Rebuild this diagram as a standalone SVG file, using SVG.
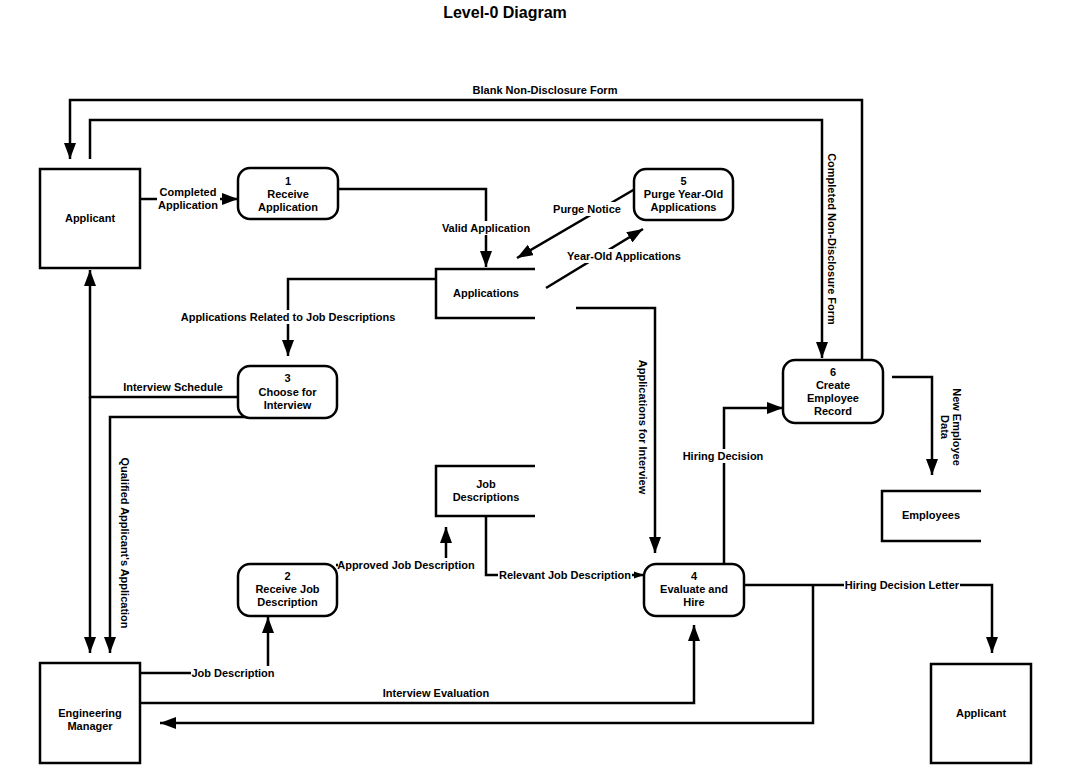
<svg xmlns="http://www.w3.org/2000/svg" width="1085" height="767" viewBox="0 0 1085 767">
<style>
.ln{fill:none;stroke:#000;stroke-width:2.5}
.bx{fill:#fff;stroke:#000;stroke-width:2.5}
.st{fill:none;stroke:#000;stroke-width:2.5}
.bg{fill:#fff;stroke:none}
.t{font-family:"Liberation Sans",Arial,sans-serif;font-size:11px;font-weight:bold;fill:#000;text-anchor:middle}
.lb{font-family:"Liberation Sans",Arial,sans-serif;font-size:11px;font-weight:bold;fill:#000;text-anchor:middle}
.title{font-family:"Liberation Sans",Arial,sans-serif;font-size:16px;font-weight:bold;fill:#000;text-anchor:middle}
</style>
<defs>
<marker id="arr" markerUnits="userSpaceOnUse" markerWidth="16" markerHeight="12" refX="16" refY="6" orient="auto">
<path d="M0,0 L16,6 L0,12 z" fill="#000"/>
</marker>
<marker id="arrs" markerUnits="userSpaceOnUse" markerWidth="10" markerHeight="8" refX="10" refY="4" orient="auto">
<path d="M0,0.5 L10,4 L0,7.5 z" fill="#000"/>
</marker>
</defs>
<rect width="1085" height="767" fill="#fff"/>
<text class="title" x="505" y="18">Level-0 Diagram</text>

<g id="connectors">
<path class="ln" d="M862,360 V100 H70 V159" marker-end="url(#arr)"/>
<path class="ln" d="M90,159 V120 H822 V358" marker-end="url(#arr)"/>
<path class="ln" d="M140,199 H238" marker-end="url(#arr)"/>
<path class="ln" d="M338,189 H486 V267" marker-end="url(#arr)"/>
<path class="ln" d="M635,189 L517,258" marker-end="url(#arr)"/>
<path class="ln" d="M546,288 L643,229" marker-end="url(#arr)"/>
<path class="ln" d="M436,279 H288 V356" marker-end="url(#arr)"/>
<path class="ln" d="M238,397 H90 V270" marker-end="url(#arr)"/>
<path class="ln" d="M90,397 V653" marker-end="url(#arr)"/>
<path class="ln" d="M250,417 H110 V653" marker-end="url(#arr)"/>
<path class="ln" d="M140,673 H268 V617" marker-end="url(#arr)"/>
<path class="ln" d="M336,565 H446 V527" marker-end="url(#arr)"/>
<path class="ln" d="M486,516 V575 H644" marker-end="url(#arrs)"/>
<path class="ln" d="M576,308 H655 V553" marker-end="url(#arr)"/>
<path class="ln" d="M724,564 V408 H783" marker-end="url(#arr)"/>
<path class="ln" d="M892,377 H932 V475" marker-end="url(#arr)"/>
<path class="ln" d="M744,585 H992 V653" marker-end="url(#arr)"/>
<path class="ln" d="M813,585 V723 H160" marker-end="url(#arr)"/>
<path class="ln" d="M140,703 H694 V625" marker-end="url(#arr)"/>

<rect class="bg" x="157" y="185" width="63" height="27"/>
<rect class="bg" x="440" y="221" width="92" height="14"/>
<rect class="bg" x="552" y="202" width="70" height="14"/>
<rect class="bg" x="566" y="249" width="117" height="14"/>
<rect class="bg" x="180" y="310" width="216" height="14"/>
<rect class="bg" x="338" y="558" width="138" height="14"/>
<rect class="bg" x="498" y="568" width="134" height="14"/>
<rect class="bg" x="191" y="666" width="84" height="14"/>
<rect class="bg" x="682" y="449" width="82" height="14"/>
<rect class="bg" x="844" y="578" width="116" height="14"/>

<text class="lb" x="545" y="94">Blank Non-Disclosure Form</text>
<text class="lb" x="188" y="196">Completed</text>
<text class="lb" x="188" y="209">Application</text>
<text class="lb" x="486" y="232">Valid Application</text>
<text class="lb" x="587" y="213">Purge Notice</text>
<text class="lb" x="624" y="260">Year-Old Applications</text>
<text class="lb" x="288" y="321">Applications Related to Job Descriptions</text>
<text class="lb" x="173" y="391">Interview Schedule</text>
<text class="lb" transform="translate(125,543) rotate(90)" x="0" y="4">Qualified Applicant's Application</text>
<text class="lb" x="406" y="569">Approved Job Description</text>
<text class="lb" x="565" y="579">Relevant Job Description</text>
<text class="lb" x="233" y="677">Job Description</text>
<text class="lb" x="436" y="697">Interview Evaluation</text>
<text class="lb" transform="translate(643,427) rotate(90)" x="0" y="4">Applications for Interview</text>
<text class="lb" x="723" y="460">Hiring Decision</text>
<text class="lb" transform="translate(832,239) rotate(90)" x="0" y="4">Completed Non-Disclosure Form</text>
<text class="lb" transform="translate(951,427) rotate(90)" x="0" y="-2">New Employee</text>
<text class="lb" transform="translate(951,427) rotate(90)" x="0" y="10">Data</text>
<text class="lb" x="902" y="589">Hiring Decision Letter</text>
</g>

<g id="applicant-top">
<rect class="bx" x="40" y="169" width="100" height="99"/>
<text class="t" x="90" y="222">Applicant</text>
</g>
<g id="eng-manager">
<rect class="bx" x="40" y="663" width="100" height="100"/>
<text class="t" x="90" y="717">Engineering</text>
<text class="t" x="90" y="730">Manager</text>
</g>
<g id="applicant-bottom">
<rect class="bx" x="931" y="664" width="100" height="99"/>
<text class="t" x="981" y="717">Applicant</text>
</g>

<g id="p1">
<rect class="bx" x="238" y="168" width="100" height="51" rx="12"/>
<text class="t" x="288" y="185">1</text>
<text class="t" x="288" y="198">Receive</text>
<text class="t" x="288" y="211">Application</text>
</g>
<g id="p2">
<rect class="bx" x="238" y="564" width="99" height="52" rx="12"/>
<text class="t" x="287.5" y="580">2</text>
<text class="t" x="287.5" y="593">Receive Job</text>
<text class="t" x="287.5" y="606">Description</text>
</g>
<g id="p3">
<rect class="bx" x="238" y="366" width="99" height="52" rx="12"/>
<text class="t" x="287.5" y="382">3</text>
<text class="t" x="287.5" y="396">Choose for</text>
<text class="t" x="287.5" y="409">Interview</text>
</g>
<g id="p4">
<rect class="bx" x="644" y="564" width="100" height="52" rx="12"/>
<text class="t" x="694" y="580">4</text>
<text class="t" x="694" y="593">Evaluate and</text>
<text class="t" x="694" y="606">Hire</text>
</g>
<g id="p5">
<rect class="bx" x="634" y="169" width="99" height="51" rx="12"/>
<text class="t" x="683.5" y="185">5</text>
<text class="t" x="683.5" y="198">Purge Year-Old</text>
<text class="t" x="683.5" y="211">Applications</text>
</g>
<g id="p6">
<rect class="bx" x="783" y="360" width="100" height="63" rx="12"/>
<text class="t" x="833" y="376">6</text>
<text class="t" x="833" y="389">Create</text>
<text class="t" x="833" y="402">Employee</text>
<text class="t" x="833" y="415">Record</text>
</g>

<g id="ds-applications">
<path class="st" d="M535,269 H436 V318 H535"/>
<text class="t" x="486" y="297">Applications</text>
</g>
<g id="ds-jobdesc">
<path class="st" d="M535,466 H436 V516 H535"/>
<text class="t" x="486" y="488">Job</text>
<text class="t" x="486" y="501">Descriptions</text>
</g>
<g id="ds-employees">
<path class="st" d="M981,491 H882 V541 H981"/>
<text class="t" x="931" y="519">Employees</text>
</g>
</svg>
